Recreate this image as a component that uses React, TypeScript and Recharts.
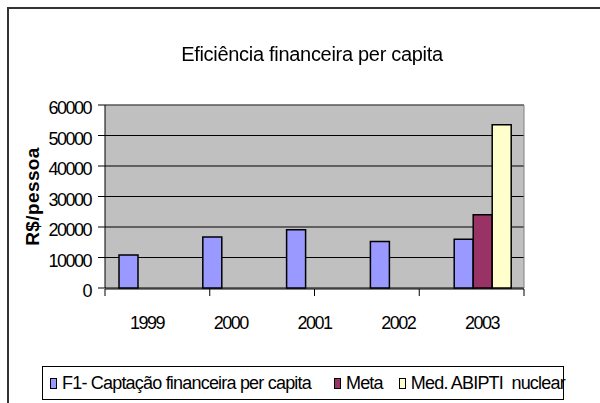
import React from 'react';
import { BarChart, Bar, XAxis, YAxis, CartesianGrid, Legend } from 'recharts';

const years = ['1999', '2000', '2001', '2002', '2003'];
const f1Values = [10800, 16700, 19100, 15250, 16000];
const metaValues: (number | null)[] = [null, null, null, null, 24000];
const abiptiValues: (number | null)[] = [null, null, null, null, 53500];
const yTicks = [0, 10000, 20000, 30000, 40000, 50000, 60000];
const edgeTicks = [0, 1, 2, 3, 4, 5];

const seriesKeys = ['f1', 'meta', 'abipti'];
const seriesNames: Record<string, string> = {
  f1: 'F1- Captação financeira per capita',
  meta: 'Meta',
  abipti: 'Med. ABIPTI  nuclear',
};
const title = 'Eficiência financeira per capita';
const yLabel = 'R$/pessoa';

const data = years.map((year, i) => ({
  year,
  f1: f1Values[i],
  meta: metaValues[i],
  abipti: abiptiValues[i],
}));

const FONT = '"Liberation Sans", Arial, sans-serif';

function LegendContent(props: any) {
  const payload = [...(props.payload || [])].sort(
    (a: any, b: any) => seriesKeys.indexOf(a.dataKey) - seriesKeys.indexOf(b.dataKey)
  );
  return (
    <div
      style={{
        boxSizing: 'border-box',
        width: 522,
        height: 34,
        border: '1px solid #000',
        display: 'flex',
        alignItems: 'center',
        paddingLeft: 7,
        fontFamily: FONT,
        fontSize: 18,
        letterSpacing: '-0.8px',
        whiteSpace: 'pre',
        color: '#000',
        background: '#fff',
      }}
    >
      {payload.map((e: any, i: number) => (
        <span key={i} style={{ display: 'inline-flex', alignItems: 'center', marginRight: i === 0 ? 23 : 16 }}>
          <span
            style={{
              display: 'inline-block',
              boxSizing: 'border-box',
              width: 7,
              height: 11,
              background: e.color,
              border: '1px solid #000',
              marginRight: 5,
            }}
          />
          {e.value}
        </span>
      ))}
    </div>
  );
}

function YLabel(props: any) {
  const vb = props.viewBox || { x: 0, y: 0, width: 0, height: 0 };
  const cx = 30;
  const cy = vb.y + vb.height / 2;
  return (
    <text
      x={cx}
      y={cy}
      transform={`rotate(-90 ${cx} ${cy})`}
      textAnchor="middle"
      fontFamily={FONT}
      fontWeight="bold"
      fontSize={19}
      fill="#000"
      style={{ letterSpacing: '0.4px' }}
    >
      {yLabel}
    </text>
  );
}

export default function App() {
  return (
    <div
      style={{
        position: 'fixed',
        left: 7,
        top: 7,
        width: 593,
        height: 396,
        boxSizing: 'border-box',
        borderTop: '2px solid #333',
        borderLeft: '2px solid #333',
        background: '#fff',
      }}
    >
      <style>{`
        .recharts-cartesian-axis-tick-value { letter-spacing: -1.5px; }
      `}</style>
      <div
        style={{
          position: 'absolute',
          left: 0,
          top: 35,
          width: 606,
          textAlign: 'center',
          fontFamily: FONT,
          fontSize: 20,
          lineHeight: '20px',
          letterSpacing: '-0.3px',
          color: '#000',
          zIndex: 2,
        }}
      >
        {title}
      </div>
      <BarChart
        width={591}
        height={394}
        data={data}
        margin={{ top: 95, right: 75, bottom: 113, left: 0 }}
        barCategoryGap={14}
        barGap={0}
      >
        <CartesianGrid vertical={false} stroke="#000" fill="#C0C0C0" fillOpacity={1} />
        <XAxis
          xAxisId="edges"
          type="number"
          domain={[0, 5]}
          ticks={edgeTicks}
          allowDataOverflow
          height={1}
          tickSize={7}
          tickFormatter={() => ''}
          axisLine={{ stroke: '#000' }}
          tickLine={{ stroke: '#000' }}
        />
        <XAxis
          dataKey="year"
          height={1}
          tickSize={0}
          tickMargin={28}
          axisLine={false}
          tickLine={false}
          tick={{ fill: '#000', fontSize: 18, fontFamily: FONT }}
        />
        <XAxis
          xAxisId="top"
          orientation="top"
          dataKey="year"
          height={1}
          tick={false}
          tickLine={false}
          axisLine={{ stroke: '#808080' }}
        />
        <YAxis
          width={96}
          domain={[0, 60000]}
          ticks={yTicks}
          interval={0}
          tickSize={7}
          tickMargin={7}
          axisLine={{ stroke: '#000' }}
          tickLine={{ stroke: '#000' }}
          tick={{ fill: '#000', fontSize: 18, fontFamily: FONT, dy: 3 }}
          label={<YLabel />}
        />
        <YAxis
          yAxisId="right"
          orientation="right"
          width={1}
          domain={[0, 60000]}
          tick={false}
          tickLine={false}
          axisLine={{ stroke: '#808080' }}
        />
        <Legend
          layout="vertical"
          align="center"
          verticalAlign="middle"
          wrapperStyle={{ left: 33, top: 357, width: 522, height: 34 }}
          content={<LegendContent />}
        />
        <Bar dataKey="f1" name={seriesNames.f1} fill="#9999FF" stroke="#000" strokeWidth={1.5} isAnimationActive={false} />
        <Bar dataKey="meta" name={seriesNames.meta} fill="#993366" stroke="#000" strokeWidth={1.5} isAnimationActive={false} />
        <Bar dataKey="abipti" name={seriesNames.abipti} fill="#FFFFCC" stroke="#000" strokeWidth={1.5} isAnimationActive={false} />
      </BarChart>
    </div>
  );
}
